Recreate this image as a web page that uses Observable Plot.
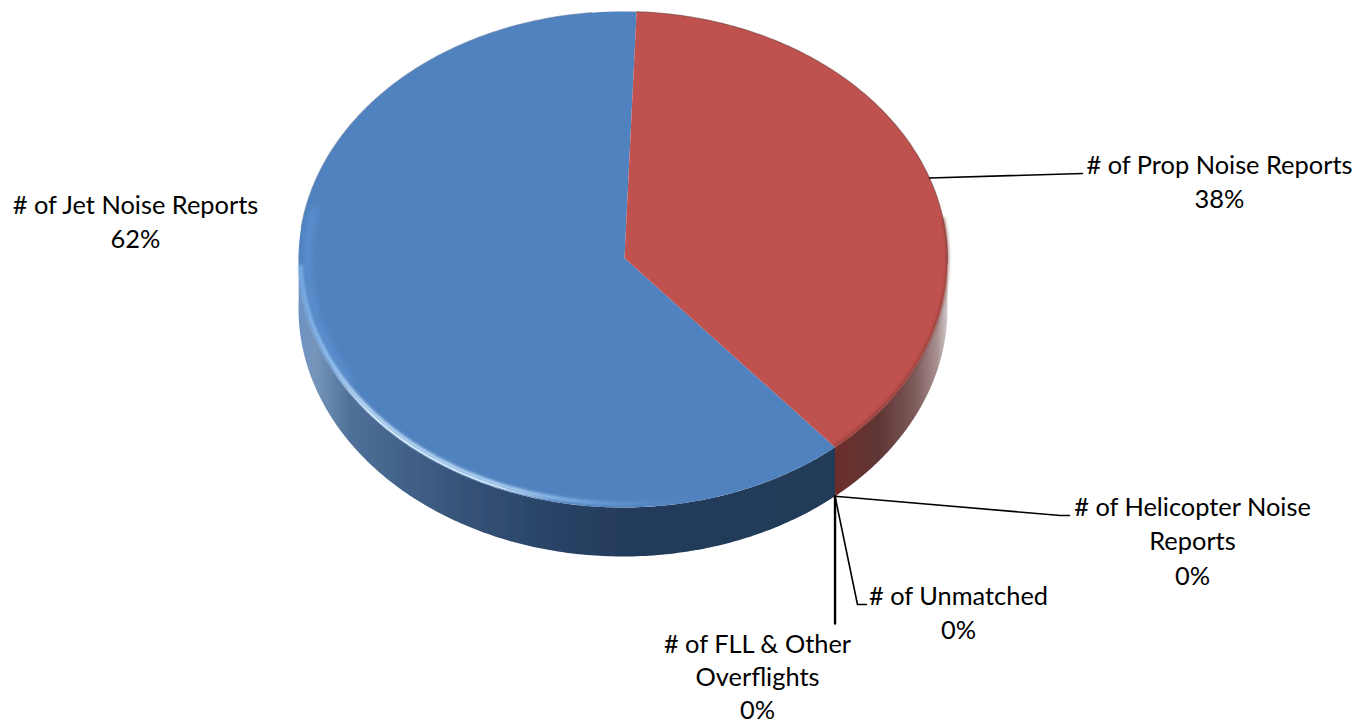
<!DOCTYPE html>
<html>
<head>
<meta charset="utf-8">
<script src="https://cdn.jsdelivr.net/npm/d3@7"></script>
<script src="https://cdn.jsdelivr.net/npm/@observablehq/plot@0.6"></script>
<style>
  html, body { margin: 0; padding: 0; background: #fff; }
  svg { display: block; }
</style>
</head>
<body>
<div id="chart"></div>
<script>
// Noise report shares, clockwise from the top of the pie
const categories = ["# of Prop Noise Reports", "# of Helicopter Noise Reports", "# of FLL & Other Overflights", "# of Unmatched", "# of Jet Noise Reports"];
const shares = [38, 0, 0, 0, 62];

// Tilted-disc geometry
const width = 1372, height = 725;
const disc = {cx: 622.5, cy: 259, rx: 324.5, ry: 248, depth: 49, start: 2.4};

// Label placement: wrapped lines, text centre, line spacing, leader elbow
const labelLines = [
  ["# of Prop Noise Reports", "38%"],
  ["# of Helicopter Noise", "Reports", "0%"],
  ["# of FLL & Other", "Overflights", "0%"],
  ["# of Unmatched", "0%"],
  ["# of Jet Noise Reports", "62%"]
];
const labelCentre = [[1219, 165], [1192, 507], [757, 644.5], [958, 596], [135, 205]];
const labelSpacing = [34.7, 34.7, 33, 34.7, 34.7];
const leaderElbows = [
  [[1082, 173]],
  [[1060, 515], [1069, 515]],
  [[null, 623]],
  [[857, 604], [866, 604]],
  null
];

const rad = d => d * Math.PI / 180;
const rim = (deg, drop = 0, inset = 0) => ({
  x: disc.cx + (disc.rx - inset) * Math.sin(rad(deg)),
  y: disc.cy - (disc.ry - inset) * Math.cos(rad(deg)) + drop
});
const sweep = (a, b, drop = 0, inset = 0) =>
  d3.range(0, 1.0001, 1 / 180).map(t => rim(a + (b - a) * t, drop, inset));

// Slice extents in degrees, from the cumulative shares
let running = 0;
const slices = categories.map((name, i) => {
  const a = disc.start + running * 3.6;
  running += shares[i];
  return {name, a, b: disc.start + running * 3.6, mid: a + shares[i] * 1.8};
});
const prop = slices[0], jet = slices[4];
const apex = {x: disc.cx + 1.5, y: disc.cy - 1.5};

const face = s => [apex, ...sweep(s.a, s.b)];
const wall = (a, b) => [...sweep(a, b), ...sweep(b, a, disc.depth)];

// Leader paths start on the rim, dropping to the wall's base on the near side;
// an elbow without an x runs straight down from the start
const leaders = slices.flatMap((s, i) => {
  if (!leaderElbows[i]) return [];
  const near = s.mid > 90 && s.mid < 270;
  const start = rim(s.mid, near ? disc.depth : 0);
  return [{i, pts: [start, ...leaderElbows[i].map(([x, y]) => ({x: x ?? start.x, y}))]}];
});

const labels = labelLines.flatMap((lines, i) =>
  lines.map((text, k) => ({text, x: labelCentre[i][0], y: labelCentre[i][1] + k * labelSpacing[i]})));

// Gradients and blur filters used by the walls and rim highlights
const defs = () => {
  const d = d3.create("svg:defs");
  const grad = (id, stops, x1 = 298, x2 = 948) => {
    const g = d.append("linearGradient").attr("id", id)
      .attr("gradientUnits", "userSpaceOnUse")
      .attr("x1", x1).attr("x2", x2).attr("y1", 0).attr("y2", 0);
    stops.forEach(([o, c, op = 1]) => g.append("stop").attr("offset", o).attr("stop-color", c).attr("stop-opacity", op));
  };
  grad("jetWall", [[0, "#6d93c4"], [0.025, "#7595b9"], [0.08, "#4f7098"], [0.16, "#426289"], [0.28, "#334f74"], [0.37, "#2a4569"], [0.5, "#243b5a"], [1, "#223a58"]]);
  grad("propWall", [[0, "#6e2d2b"], [0.4, "#5f3635"], [0.7, "#7d5a5a"], [0.9, "#a89090"], [1, "#d5cccc"]], 833, 948);
  grad("jetRim", [[0, "#7db0ea"], [0.05, "#9cc9f5"], [0.12, "#cbe6fd"], [0.38, "#c4e2fb"], [0.5, "#8fbdee", 0.9], [0.62, "#6a9ad4", 0.6], [0.78, "#4f81bd", 0]], 298, 830);
  grad("jetCore", [[0.06, "#ffffff", 0], [0.14, "#e8f6ff"], [0.36, "#dff1ff"], [0.48, "#ffffff", 0]], 298, 830);
  const blur = (id, s) => d.append("filter").attr("id", id)
    .attr("filterUnits", "userSpaceOnUse").attr("x", 0).attr("y", 0).attr("width", width).attr("height", height)
    .append("feGaussianBlur").attr("stdDeviation", s);
  blur("soft", 0.6);
  blur("glow", 1.6);
  blur("bevel", 3);
  return d.node();
};

// Wraps a mark's render so its group draws through a named blur filter
const blurred = id => (index, scales, values, dims, context, next) => {
  const g = next(index, scales, values, dims, context);
  g.setAttribute("filter", `url(#${id})`);
  return g;
};

const X = {x: "x", y: "y"};
const chart = Plot.plot({
  width, height,
  margin: 0,
  x: {domain: [0, width], range: [0, width], axis: null},
  y: {domain: [0, height], range: [0, height], axis: null},
  marks: [
    defs,
    Plot.line(wall(jet.a, 272), {...X, fill: "url(#jetWall)", stroke: "none", render: blurred("soft")}),
    Plot.line(wall(prop.b, 90), {...X, fill: "url(#propWall)", stroke: "none", render: blurred("soft")}),
    Plot.line(face(jet), {...X, fill: "#5082bf", stroke: "none"}),
    Plot.line(face(prop), {...X, fill: "#bf524e", stroke: "none"}),
    Plot.line(sweep(240, 282, 0, 9), {...X, stroke: "#6ea4e6", strokeWidth: 5, strokeOpacity: 0.5, render: blurred("bevel")}),
    Plot.line(sweep(jet.b - 85, jet.b - 8), {...X, stroke: "#5f7fa8", strokeWidth: 1.2, strokeOpacity: 0.6, render: blurred("soft")}),
    Plot.line(sweep(prop.a, prop.mid + 20), {...X, stroke: "#6b3a3a", strokeWidth: 1.2, strokeOpacity: 0.55, render: blurred("soft")}),
    Plot.line(sweep(jet.a + 12, 268, -2, 2), {...X, stroke: "url(#jetRim)", strokeWidth: 3.5, render: blurred("glow")}),
    Plot.line(sweep(jet.a + 30, 262, -1.5), {...X, stroke: "url(#jetCore)", strokeWidth: 1.4, render: blurred("soft")}),
    Plot.line(sweep(prop.mid + 10, prop.b, -1.5), {...X, stroke: "#7d3331", strokeWidth: 2.5, strokeOpacity: 0.7, render: blurred("glow")}),
    ...leaders.map(l => Plot.line(l.pts, {...X, stroke: "#000", strokeWidth: categories[l.i].includes("FLL") ? 2.4 : 1.6})),
    Plot.text(labels, {
      ...X, text: "text", fontFamily: "Lato", fontSize: 25.4, fill: "#000",
      textAnchor: "middle", lineAnchor: "middle"
    })
  ]
});
document.getElementById("chart").append(chart);
</script>
</body>
</html>
